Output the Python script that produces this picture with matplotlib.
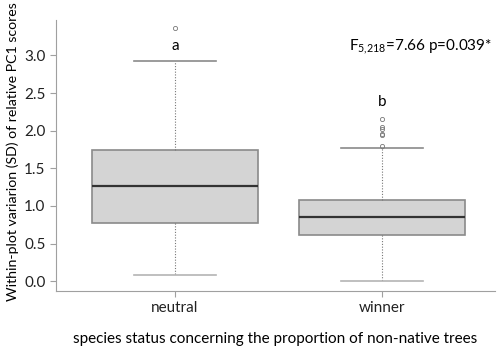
import matplotlib
matplotlib.use("Agg")
import matplotlib.pyplot as plt

plt.rcParams['font.family'] = ['Lato', 'DejaVu Sans']
plt.rcParams['mathtext.fontset'] = 'custom'
plt.rcParams['mathtext.rm'] = 'Lato'
plt.rcParams['mathtext.default'] = 'regular'

groups = ['neutral', 'winner']
q1 = [0.77, 0.62]
med = [1.265, 0.85]
q3 = [1.74, 1.075]
whislo = [0.085, 0.0]
whishi = [2.925, 1.77]
fliers = [[3.36], [2.15, 2.05, 2.02, 1.96, 1.94, 1.79]]
letters = ['a', 'b']
letter_y = [3.12, 2.38]

stats = []
for i, g in enumerate(groups):
    stats.append({'label': g, 'q1': q1[i], 'med': med[i], 'q3': q3[i],
                  'whislo': whislo[i], 'whishi': whishi[i], 'fliers': fliers[i]})

fig = plt.figure(figsize=(5, 3.47), dpi=100)
ax = fig.add_axes([0.112, 0.1614, 0.878, 0.781])

bp = ax.bxp(stats, positions=[1, 2], widths=0.8, patch_artist=True,
            boxprops=dict(facecolor='#d4d4d4', edgecolor='#8a8a8a', linewidth=1.2),
            medianprops=dict(color='#333333', linewidth=1.6),
            whiskerprops=dict(color='#777777', linestyle=(0, (1, 1.5)), linewidth=0.8),
            capprops=dict(color='#8a8a8a', linewidth=1.2),
            capwidths=0.4,
            flierprops=dict(marker='o', markersize=3, markerfacecolor='none',
                            markeredgecolor='#777777', markeredgewidth=0.6))
# lower caps are lighter in the original
for c in bp['caps'][0::2]:
    c.set_color('#b4b4b4')

for i, t in enumerate(letters):
    ax.text(i + 1, letter_y[i], t, ha='center', va='center', fontsize=11)

ax.text(2.53, 3.12, r'F$_{5{,}218}$=7.66 p=0.039*', ha='right', va='center', fontsize=11)

ax.set_xlim(0.425, 2.546)
ax.set_ylim(-0.13, 3.47)
ax.set_yticks([0.0, 0.5, 1.0, 1.5, 2.0, 2.5, 3.0])
ax.set_yticklabels(['0.0', '0.5', '1.0', '1.5', '2.0', '2.5', '3.0'])
ax.set_xticks([1, 2])
ax.set_xticklabels(groups)

for s in ['top', 'right']:
    ax.spines[s].set_visible(False)
for s in ['left', 'bottom']:
    ax.spines[s].set_color('#a0a0a0')
ax.tick_params(colors='#a0a0a0', labelcolor='#222222', labelsize=11, length=4)

ax.set_ylabel('Within-plot variarion (SD) of relative PC1 scores', fontsize=10.2)
ax.yaxis.set_label_coords(-0.085, 0.515)
ax.set_xlabel('species status concerning the proportion of non-native trees', fontsize=11, labelpad=12)

fig.savefig('out.png', dpi=100)
